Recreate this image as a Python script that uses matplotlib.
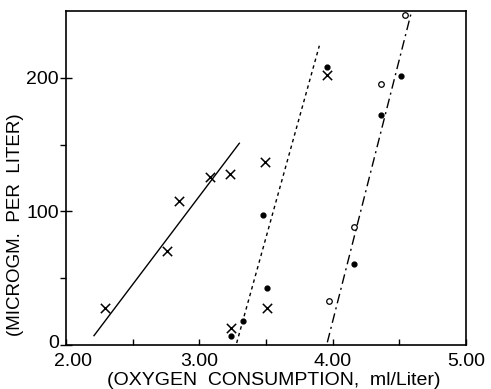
import matplotlib
matplotlib.use("Agg")
import matplotlib.pyplot as plt
import matplotlib.transforms as mtransforms
import numpy as np

plt.rcParams['font.family'] = ['Liberation Sans', 'DejaVu Sans']

# Data
x_cross = [2.29, 2.76, 2.85, 3.08, 3.23, 3.24, 3.49, 3.51, 3.96]
y_cross = [28, 70, 108, 126, 128, 13, 137, 28, 202]

x_filled = [3.24, 3.33, 3.48, 3.51, 3.96, 4.16, 4.36, 4.51]
y_filled = [7, 18, 97, 43, 208, 61, 172, 201]

x_open = [3.97, 4.16, 4.36, 4.54]
y_open = [33, 88, 195, 247]

solid_x = [2.21, 3.30]
solid_y = [7, 151]
dotted_x = [3.28, 3.90]
dotted_y = [1.5, 224]
dashdot_x = [3.96, 4.59]
dashdot_y = [2, 249]

xticks = [2.0, 3.0, 4.0, 5.0]
xticklabels = ["2.00", "3.00", "4.00", "5.00"]
yticks = [0, 100, 200]
yticklabels = ["0", "100", "200"]

fig = plt.figure(figsize=(4.91, 3.89), dpi=100)
ax = fig.add_axes([66/491, 44/389, 400/491, 334/389])

ax.plot(solid_x, solid_y, color='black', lw=1.0, ls='-')
ax.plot(dotted_x, dotted_y, color='black', lw=1.0, ls=(0, (2.5, 2.5)))
ax.plot(dashdot_x, dashdot_y, color='black', lw=1.0, ls=(0, (7, 3, 1.5, 3)))

ax.scatter(x_cross, y_cross, marker='x', s=45, color='black', linewidths=1.1, zorder=3)
ax.scatter(x_filled, y_filled, marker='o', s=12, color='black', zorder=3)
ax.scatter(x_open, y_open, marker='o', s=16, facecolors='white', edgecolors='black', linewidths=0.9, zorder=3)

ax.set_xlim(2.0, 5.0)
ax.set_ylim(0, 250)
ax.set_xticks(xticks)
ax.set_xticklabels(xticklabels)
ax.set_xticks([2.5, 3.5, 4.5], minor=True)
ax.set_yticks(yticks)
ax.set_yticklabels(yticklabels)
ax.set_yticks([50, 150], minor=True)

ax.tick_params(axis='x', which='both', direction='in', length=4, width=1, labelsize=14, pad=6)
ax.tick_params(axis='y', which='major', direction='inout', length=8, width=1, labelsize=14, pad=1)
ax.tick_params(axis='y', which='minor', direction='out', length=4, width=1)

# shift the "2.00" label slightly right (as in the reference) and the "0" slightly up
off_x = mtransforms.ScaledTranslation(7/100, 0, fig.dpi_scale_trans)
off_y = mtransforms.ScaledTranslation(0, 4/100, fig.dpi_scale_trans)
ax.get_xticklabels()[0].set_transform(ax.get_xticklabels()[0].get_transform() + off_x)
ax.get_yticklabels()[0].set_transform(ax.get_yticklabels()[0].get_transform() + off_y)

for sp in ax.spines.values():
    sp.set_linewidth(1.2)

ax.set_xlabel("(OXYGEN  CONSUMPTION,  ml/Liter)", fontsize=14)
ax.xaxis.set_label_coords(0.52, -0.08)
ax.set_ylabel("(MICROGM.  PER  LITER)", fontsize=13.5)
ax.yaxis.set_label_coords(-0.105, 0.36)

fig.savefig("out.png", dpi=100)
